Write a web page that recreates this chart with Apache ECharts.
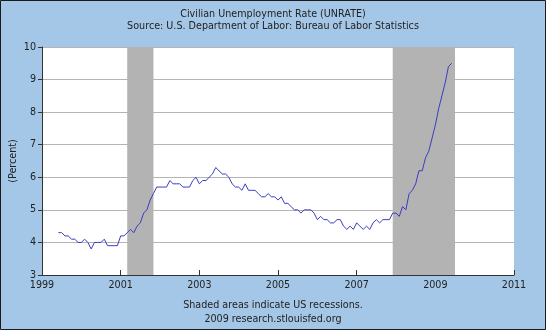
<!DOCTYPE html>
<html>
<head>
<meta charset="utf-8">
<script src="https://cdn.jsdelivr.net/npm/echarts@6/dist/echarts.min.js"></script>
<style>
html,body{margin:0;padding:0;background:#a4c7e7;}
#chart{width:546px;height:330px;}
</style>
</head>
<body>
<div id="chart"></div>
<script>
// Monthly unemployment rate, Jun 1999 - Jun 2009
const startMonth = '1999-06';
const values = [
  // 1999 Jun-Dec
  4.3,4.3,4.2,4.2,4.1,4.1,4.0,
  // 2000
  4.0,4.1,4.0,3.8,4.0,4.0,4.0,4.1,3.9,3.9,3.9,3.9,
  // 2001
  4.2,4.2,4.3,4.4,4.3,4.5,4.6,4.9,5.0,5.3,5.5,5.7,
  // 2002
  5.7,5.7,5.7,5.9,5.8,5.8,5.8,5.7,5.7,5.7,5.9,6.0,
  // 2003
  5.8,5.9,5.9,6.0,6.1,6.3,6.2,6.1,6.1,6.0,5.8,5.7,
  // 2004
  5.7,5.6,5.8,5.6,5.6,5.6,5.5,5.4,5.4,5.5,5.4,5.4,
  // 2005
  5.3,5.4,5.2,5.2,5.1,5.0,5.0,4.9,5.0,5.0,5.0,4.9,
  // 2006
  4.7,4.8,4.7,4.7,4.6,4.6,4.7,4.7,4.5,4.4,4.5,4.4,
  // 2007
  4.6,4.5,4.4,4.5,4.4,4.6,4.7,4.6,4.7,4.7,4.7,4.9,
  // 2008
  4.9,4.8,5.1,5.0,5.5,5.6,5.8,6.2,6.2,6.6,6.8,7.2,
  // 2009 Jan-Jun
  7.6,8.1,8.5,8.9,9.4,9.5
];
const recessions = [['2001-03','2001-11'],['2007-12','2009-07']];
const xTicks = [1999,2001,2003,2005,2007,2009,2011];
const yTicks = [3,4,5,6,7,8,9,10];
const titleText = 'Civilian Unemployment Rate (UNRATE)';
const subText = 'Source: U.S. Department of Labor: Bureau of Labor Statistics';
const footer1 = 'Shaded areas indicate US recessions.';
const footer2 = '2009 research.stlouisfed.org';

function ym(s){ const p=s.split('-'); return +p[0] + (+p[1]-1)/12; }
const x0 = ym(startMonth);
const seriesData = values.map((v,i)=>[x0 + i/12, v]);

const font = 'DejaVu Sans';
const fs = 9.6;
const tStyle = {fontSize:fs,fontWeight:'normal',color:'#222',fontFamily:font};
const chart = echarts.init(document.getElementById('chart'));
chart.setOption({
  backgroundColor:'#a4c7e7',
  animation:false,
  textStyle:{fontFamily:font},
  title:[
    {text:titleText,left:'center',top:4,textStyle:tStyle},
    {text:subText,left:'center',top:16,textStyle:tStyle},
    {text:footer1,left:'center',top:295,textStyle:tStyle},
    {text:footer2,left:'center',top:309,textStyle:tStyle}
  ],
  graphic:[{type:'rect',shape:{x:0.5,y:0.5,width:545,height:329},style:{fill:null,stroke:'#1a1a1a',lineWidth:1},z:100}],
  grid:{left:42,right:32,top:47,bottom:55,show:true,backgroundColor:'#ffffff',borderWidth:0,containLabel:false,outerBoundsMode:'none'},
  xAxis:{
    type:'value',min:xTicks[0],max:xTicks[xTicks.length-1],interval:2,
    axisLine:{lineStyle:{color:'#333',width:1}},
    axisTick:{inside:true,length:5,lineStyle:{color:'#333'}},
    axisLabel:{color:'#222',fontSize:fs,margin:5,fontFamily:font,formatter:v=>String(v)},
    splitLine:{show:false}
  },
  yAxis:{
    type:'value',min:yTicks[0],max:yTicks[yTicks.length-1],interval:1,
    name:'(Percent)',nameLocation:'middle',nameRotate:90,nameGap:24,nameMoveOverlap:false,
    nameTextStyle:{color:'#222',fontSize:fs,fontFamily:font},
    axisLine:{show:true,lineStyle:{color:'#333',width:1}},
    axisTick:{show:true,inside:false,length:4,lineStyle:{color:'#333'}},
    axisLabel:{color:'#222',fontSize:fs,margin:6,fontFamily:font},
    splitLine:{show:true,lineStyle:{color:'#b4b4b4',width:1}}
  },
  series:[{
    type:'line',data:seriesData,showSymbol:false,
    lineStyle:{color:'#3b3bc4',width:1},
    z:5,
    markArea:{
      silent:true,
      itemStyle:{color:'#b3b3b3',opacity:1},
      data:recessions.map(r=>[{xAxis:ym(r[0])},{xAxis:ym(r[1])}])
    }
  }]
});
</script>
</body>
</html>
